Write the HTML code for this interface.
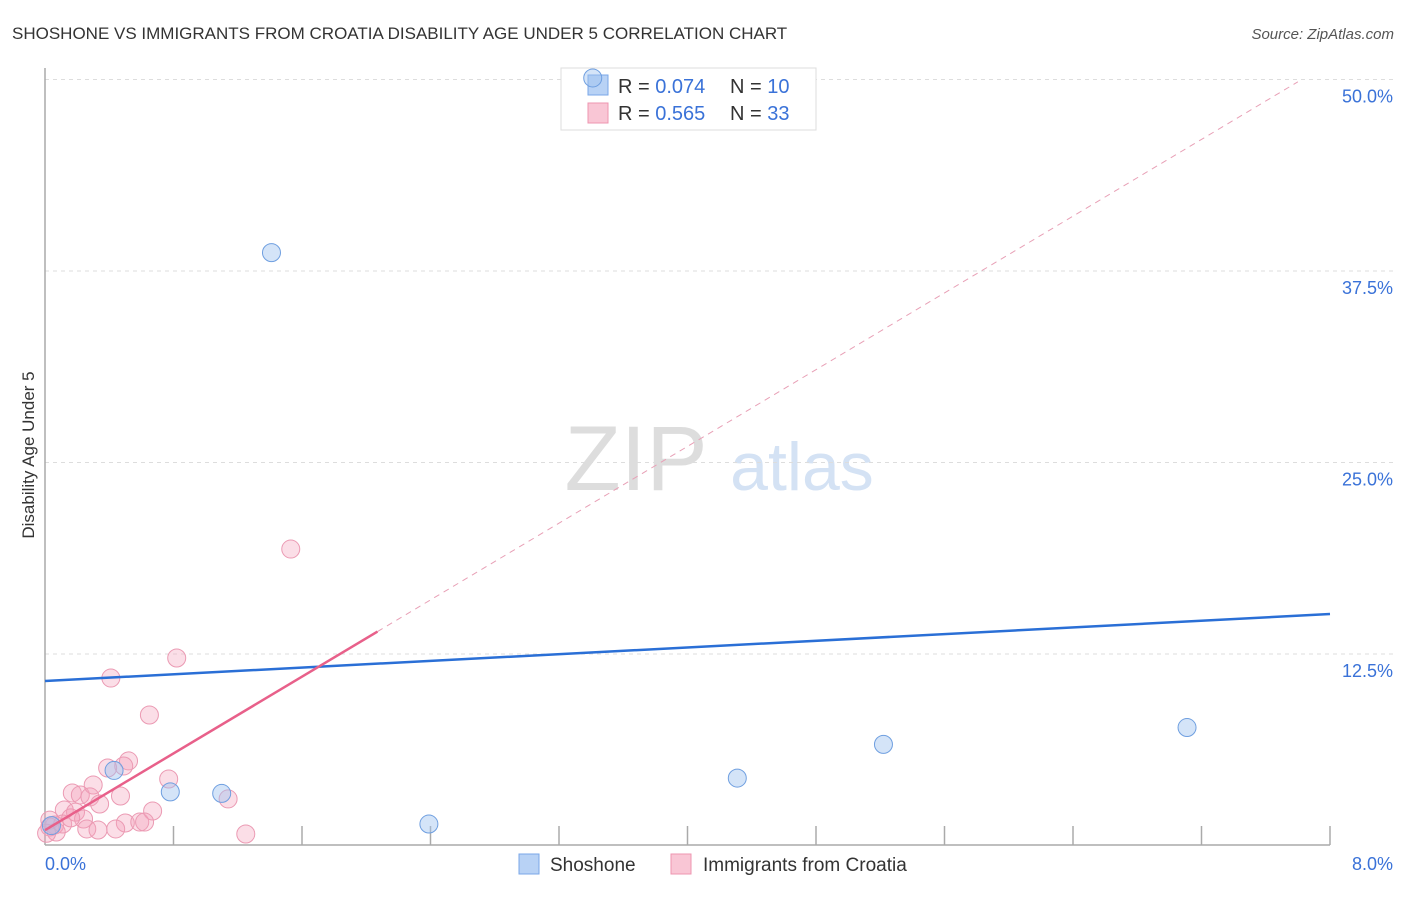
<!DOCTYPE html>
<html><head><meta charset="utf-8"><style>
body{margin:0;background:#fff;font-family:"Liberation Sans",sans-serif}
svg text{font-family:"Liberation Sans",sans-serif}
</style></head><body>
<svg id="chart" width="1406" height="892">
<text x="12" y="39" font-size="17" fill="#333">SHOSHONE VS IMMIGRANTS FROM CROATIA DISABILITY AGE UNDER 5 CORRELATION CHART</text>
<text x="1394" y="39" font-size="15" fill="#555" font-style="italic" text-anchor="end">Source: ZipAtlas.com</text>
<text transform="translate(34,455) rotate(-90)" font-size="17" fill="#333" text-anchor="middle">Disability Age Under 5</text>
<g>
<text x="636" y="490" font-size="92" fill="#ddd" font-family="Liberation Serif" text-anchor="middle">ZIP</text>
<text x="802" y="490" font-size="68" fill="#d4e2f4" text-anchor="middle">atlas</text>
</g>
<g id="grid"></g><g id="axes"></g>
<g>
<rect x="561" y="68" width="255" height="62" fill="#fff" stroke="#ddd"/>
<rect x="588" y="75" width="20" height="20" fill="#b8d2f5" stroke="#7aa7e8"/>
<rect x="588" y="103" width="20" height="20" fill="#f9c6d5" stroke="#ee95b0"/>
<text x="618" y="93" font-size="20" fill="#333">R = <tspan fill="#3a72d8">0.074</tspan></text>
<text x="730" y="93" font-size="20" fill="#333">N = <tspan fill="#3a72d8">10</tspan></text>
<text x="618" y="120" font-size="20" fill="#333">R = <tspan fill="#3a72d8">0.565</tspan></text>
<text x="730" y="120" font-size="20" fill="#333">N = <tspan fill="#3a72d8">33</tspan></text>
</g>
<g id="marks"></g>
<g>
<rect x="519" y="854" width="20" height="20" fill="#b8d2f5" stroke="#7aa7e8"/>
<text x="550" y="871" font-size="19" fill="#333">Shoshone</text>
<rect x="671" y="854" width="20" height="20" fill="#f9c6d5" stroke="#ee95b0"/>
<text x="703" y="871" font-size="19" fill="#333">Immigrants from Croatia</text>
</g>
</svg>
<script>
const xTicks=[0,8];
const yTicks=[12.5,25,37.5,50];
const blueX=[0.04,0.43,0.78,1.10,1.41,2.39,3.41,4.31,5.22,7.11];
const blueY=[1.3,4.9,3.5,3.4,38.7,1.4,50.1,4.4,6.6,7.7];
const pinkX=[0.82,0.41,0.65,0.52,0.49,0.39,0.77,0.17,0.22,0.30,0.28,0.47,0.34,1.14,0.12,0.19,0.67,0.24,0.50,0.59,0.62,0.26,0.33,0.44,1.25,0.06,0.03,0.07,1.53,0.03,0.11,0.01,0.16];
const pinkY=[12.24,10.93,8.52,5.52,5.19,5.06,4.34,3.43,3.30,3.95,3.17,3.23,2.71,3.04,2.32,2.18,2.25,1.73,1.47,1.53,1.53,1.08,1.01,1.08,0.75,1.34,1.21,0.88,19.35,1.66,1.4,0.8,1.8];
const blueTrend=[10.74,15.11];
const pinkTrend=[1.0,51.1];
const pinkSolidEnd=2.07, pinkDashEnd=7.8;
const X=v=>45+v/8*1285, Y=v=>845.5-v*15.32;
const NS="http://www.w3.org/2000/svg";
function mk(tag,attrs,parent){const e=document.createElementNS(NS,tag);for(const k in attrs)e.setAttribute(k,attrs[k]);document.getElementById(parent).appendChild(e);return e;}
yTicks.forEach(t=>{
 const l=mk('line',{x1:45,x2:1394,y1:Y(t),y2:Y(t),stroke:'#ddd','stroke-dasharray':'4,4'},'grid');
 
 
 const tx=mk('text',{x:1393,y:Y(t)+23,'font-size':18,fill:'#3a72d8','text-anchor':'end'},'grid');
 tx.textContent=t.toFixed(1)+'%';
 
 
});
mk('line',{x1:45,x2:45,y1:68,y2:845,stroke:'#aaa','stroke-width':1.5},'axes');
mk('line',{x1:45,x2:1330,y1:845,y2:845,stroke:'#aaa','stroke-width':1.5},'axes');
for(let i=1;i<=10;i++){const l=mk('line',{x1:X(i*0.8),x2:X(i*0.8),y1:826,y2:845,stroke:'#aaa','stroke-width':1.5},'axes');
 
 }
xTicks.forEach((t,i)=>{const tx=mk('text',{x:i?1393:45,y:870,'font-size':18,fill:'#3a72d8','text-anchor':i?'end':'start'},'axes');
 tx.textContent=t.toFixed(1)+'%';
 
 });
const pl=v=>pinkTrend[0]+(pinkTrend[1]-pinkTrend[0])*v/8;
const d=mk('line',{x1:X(pinkSolidEnd),y1:Y(pl(pinkSolidEnd)),x2:X(pinkDashEnd),y2:Y(pl(pinkDashEnd)),stroke:'#e8a0b6','stroke-dasharray':'6,5'},'marks');


pinkX.forEach((x,i)=>{const c=mk('circle',{cx:X(x),cy:Y(pinkY[i]),r:9,fill:'rgba(244,160,185,0.35)',stroke:'#eb9ab3','stroke-width':1},'marks');
 
 });
blueX.forEach((x,i)=>{const c=mk('circle',{cx:X(x),cy:Y(blueY[i]),r:9,fill:'rgba(160,195,240,0.45)',stroke:'#6f9fe0','stroke-width':1},'marks');
 
 });
const b=mk('line',{x1:X(0),y1:Y(blueTrend[0]),x2:X(8),y2:Y(blueTrend[1]),stroke:'#2a6fd6','stroke-width':2.5},'marks');


const p=mk('line',{x1:X(0),y1:Y(pinkTrend[0]),x2:X(pinkSolidEnd),y2:Y(pl(pinkSolidEnd)),stroke:'#e8608a','stroke-width':2.5},'marks');


</script>
</body></html>
